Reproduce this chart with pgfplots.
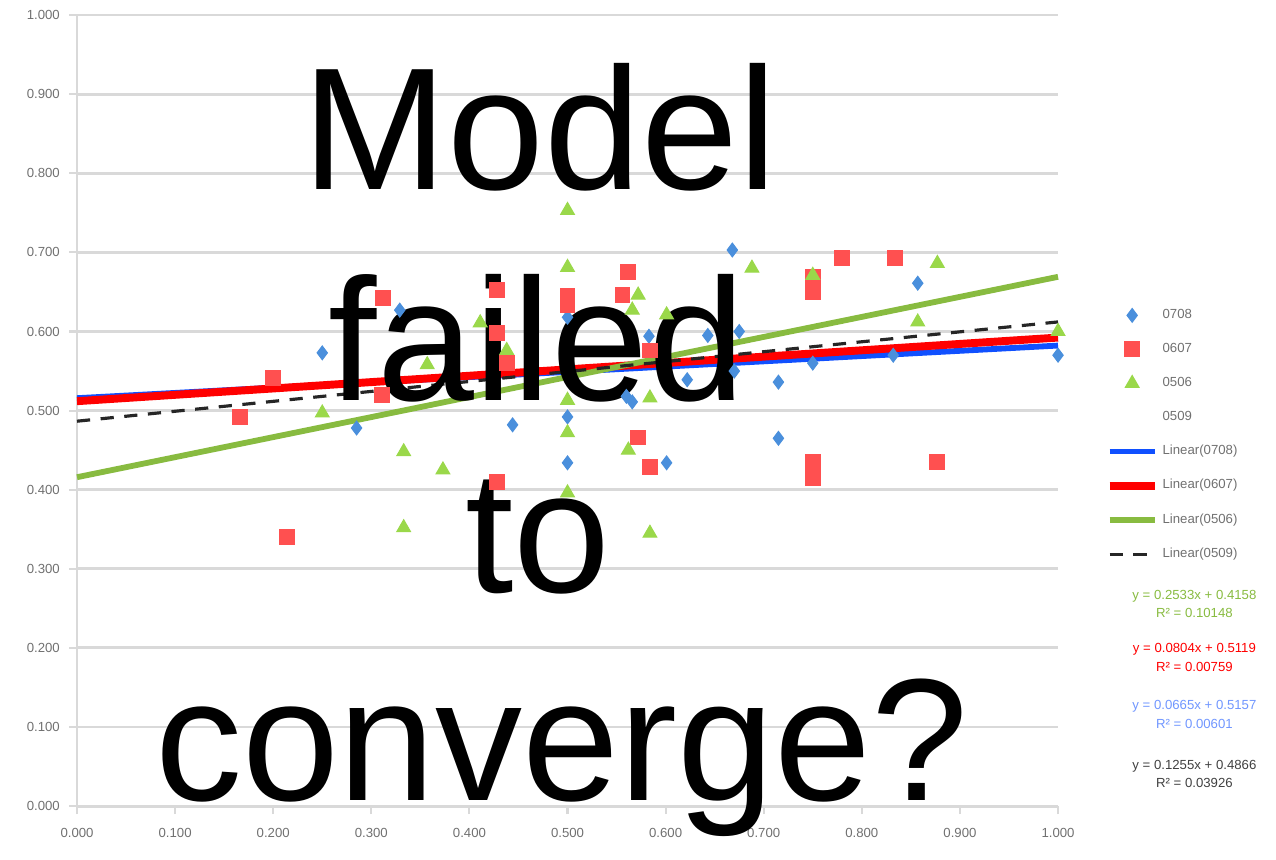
\documentclass[border=0pt]{standalone}
\usepackage{fontspec}
\setmainfont{Liberation Sans}
\usepackage{pgfplots}
\pgfplotsset{compat=1.18}

\definecolor{ptblue}{HTML}{4A8FDC}
\definecolor{ptred}{HTML}{FF5050}
\definecolor{ptgreen}{HTML}{9AD84A}
\definecolor{lnblue}{HTML}{1050FF}
\definecolor{lnred}{HTML}{FF0000}
\definecolor{lngreen}{HTML}{88BB40}
\definecolor{gridgray}{HTML}{D9D9D9}
\definecolor{labgray}{HTML}{707070}

\begin{document}
\begin{tikzpicture}
\begin{axis}[
  width=13.07cm, height=10.54cm, scale only axis,
  xmin=0, xmax=1, ymin=0, ymax=1,
  xtick={0,0.1,0.2,0.3,0.4,0.5,0.6,0.7,0.8,0.9,1},
  ytick={0,0.1,0.2,0.3,0.4,0.5,0.6,0.7,0.8,0.9,1},
  axis x line*=bottom, axis y line*=left,
  axis line style={gridgray, line width=1.1pt, -},
  ymajorgrids, grid style={gridgray, line width=1.1pt},
  tick style={gridgray, line width=0.8pt},
  major tick length=3pt, tick align=outside,
  ticklabel style={font=\fontsize{5}{6}\selectfont, text=labgray},
  xticklabel style={yshift=-2pt},
  /pgf/number format/.cd, fixed, fixed zerofill, precision=3, assume math mode=true,
  /pgfplots/.cd,
  clip=false,
  legend style={at={(1.040,0.641)}, anchor=north west, draw=none, fill=none,
    font=\fontsize{5}{6}\selectfont, text=labgray, row sep=4.9pt,
    nodes={inner sep=1.5pt}},
  legend cell align=left,
]

% 0708
\addplot[only marks, mark=diamond*, mark size=2.6pt, color=ptblue] coordinates {
  (0.250,0.573)(0.285,0.478)(0.329,0.627)(0.444,0.482)(0.500,0.492)
  (0.500,0.434)(0.500,0.618)(0.566,0.511)(0.560,0.518)(0.583,0.594)
  (0.601,0.434)(0.622,0.539)(0.643,0.595)(0.668,0.703)(0.670,0.550)
  (0.675,0.600)(0.715,0.536)(0.715,0.465)(0.750,0.560)(0.832,0.570)
  (0.857,0.661)(1.000,0.570)
};
\addlegendentry{0708}

% 0607
\addplot[only marks, mark=square*, mark size=2.8pt, color=ptred] coordinates {
  (0.166,0.492)(0.200,0.541)(0.214,0.340)(0.312,0.642)(0.311,0.520)
  (0.428,0.652)(0.428,0.598)(0.438,0.560)(0.428,0.410)(0.500,0.645)
  (0.500,0.633)(0.556,0.646)(0.562,0.675)(0.572,0.466)(0.584,0.429)
  (0.584,0.576)(0.750,0.669)(0.750,0.650)(0.750,0.435)(0.750,0.415)
  (0.780,0.693)(0.834,0.693)(0.877,0.435)
};
\addlegendentry{0607}

% 0506
\addplot[only marks, mark=triangle*, mark size=3pt, color=ptgreen] coordinates {
  (0.250,0.497)(0.333,0.448)(0.333,0.352)(0.357,0.558)(0.373,0.425)
  (0.411,0.611)(0.438,0.576)(0.500,0.753)(0.500,0.681)(0.500,0.513)
  (0.500,0.472)(0.500,0.396)(0.562,0.450)(0.566,0.627)(0.572,0.646)
  (0.584,0.516)(0.584,0.345)(0.601,0.621)(0.688,0.680)(0.750,0.671)
  (0.857,0.612)(0.877,0.686)(1.000,0.600)
};
\addlegendentry{0506}

\addlegendimage{color=white}
\addlegendentry{0509}

% trend lines
\addplot[lnblue, line width=2.2pt] coordinates {(0,0.5157)(1,0.5822)};
\addlegendentry{Linear(0708)}
\addplot[lnred, line width=3pt] coordinates {(0,0.5119)(1,0.5923)};
\addlegendentry{Linear(0607)}
\addplot[lngreen, line width=2.2pt] coordinates {(0,0.4158)(1,0.6691)};
\addlegendentry{Linear(0506)}
\addplot[black!85, line width=1.2pt, dash pattern=on 5pt off 4pt] coordinates {(0,0.4866)(1,0.6121)};
\addlegendentry{Linear(0509)}

% trend line equations
\node[align=center, font=\fontsize{5}{7}\selectfont, text=lngreen] at (axis cs:1.139,0.2554)
  {y = 0.2533x + 0.4158\\R² = 0.10148};
\node[align=center, font=\fontsize{5}{7}\selectfont, text=lnred] at (axis cs:1.139,0.1877)
  {y = 0.0804x + 0.5119\\R² = 0.00759};
\node[align=center, font=\fontsize{5}{7}\selectfont, text=lnblue!60] at (axis cs:1.139,0.1157)
  {y = 0.0665x + 0.5157\\R² = 0.00601};
\node[align=center, font=\fontsize{5}{7}\selectfont, text=black!75] at (axis cs:1.139,0.0405)
  {y = 0.1255x + 0.4866\\R² = 0.03926};

% overlay caption
\node[anchor=base, font=\fontsize{66}{77}\selectfont] at (axis cs:0.472,0.779) {Model};
\node[anchor=base, font=\fontsize{66}{77}\selectfont] at (axis cs:0.469,0.513) {failed};
\node[anchor=base, font=\fontsize{66}{77}\selectfont] at (axis cs:0.470,0.2705) {to};
\node[anchor=base, font=\fontsize{66}{77}\selectfont] at (axis cs:0.494,0.0076) {converge?};

\coordinate (bbA) at (axis cs:-0.0785,-0.0670);
\coordinate (bbB) at (axis cs:1.2222,1.0190);
\end{axis}
\pgfresetboundingbox
\useasboundingbox (bbA) rectangle (bbB);
\end{tikzpicture}
\end{document}
